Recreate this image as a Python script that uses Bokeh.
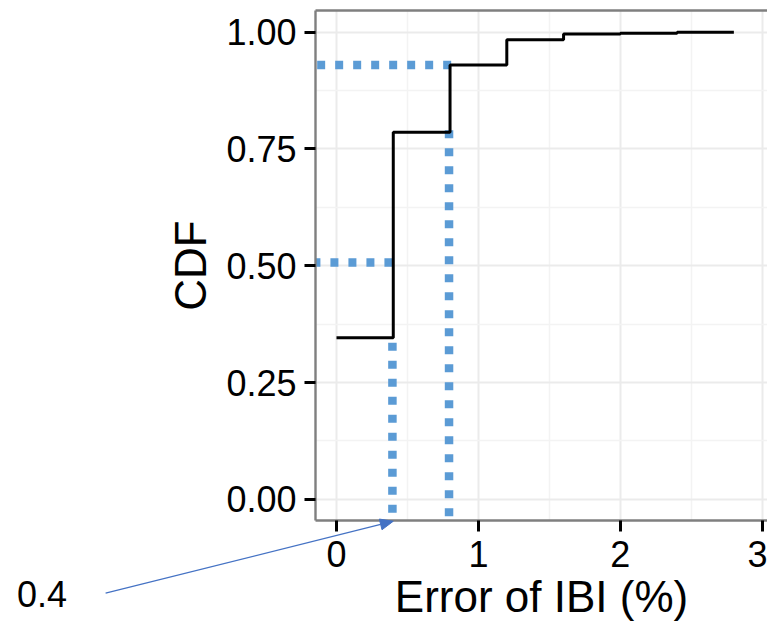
import math
from bokeh.plotting import figure
from bokeh.models import (LinearAxis, FixedTicker, NumeralTickFormatter, Range1d, Grid)
from bokeh.core.properties import value
from bokeh.embed import file_html
from bokeh.resources import INLINE

# Empirical CDF of the IBI error (step after each value)
err_pct = [0.0, 0.4, 0.8, 1.2, 1.6, 2.0, 2.4, 2.8]
cdf = [0.346, 0.786, 0.930, 0.984, 0.996, 0.998, 1.0, 1.0]

# Dotted guide lines (horizontal: level + right end, vertical: position + top)
guide_h_y = [0.930, 0.507]
guide_h_xend = [0.808, 0.394]
guide_v_x = [0.793, 0.394]
guide_v_ytop = [0.790, 0.335]

x_ticks = [0, 1, 2, 3]
x_minor = [0.5, 1.5, 2.5]
y_ticks = [0.0, 0.25, 0.5, 0.75, 1.0]
y_minor = [0.125, 0.375, 0.625, 0.875]

# call-out: value text and arrow from the text to the axis
annot_value = 0.4
annot_text = "0.4"
annot_text_pos = (-2.252, -0.2038)
arrow_start = (-1.627, -0.201)
arrow_end_y = -0.047

FONT = "Liberation Sans"
BORDER = "#7f7f7f"
GUIDE = "#5b9bd5"
ARROW = "#4472c4"

X0, X1 = -0.148, 3.037
Y0, Y1 = -0.0454, 1.0465
FRAME_W, FRAME_H = 452, 510

p = figure(width=767, height=628, output_backend="svg", toolbar_location=None,
           x_range=Range1d(X0, X1), y_range=Range1d(Y0, Y1),
           x_axis_type=None, y_axis_type=None,
           min_border_left=315, min_border_right=0, min_border_top=10,
           min_border_bottom=108)
p.outline_line_color = None
p.background_fill_color = "white"
p.border_fill_color = "white"

xaxis = LinearAxis(ticker=FixedTicker(ticks=x_ticks, minor_ticks=x_minor))
yaxis = LinearAxis(ticker=FixedTicker(ticks=y_ticks, minor_ticks=y_minor),
                   formatter=NumeralTickFormatter(format="0.00"))
for ax in (xaxis, yaxis):
    ax.axis_line_color = BORDER
    ax.axis_line_width = 2.4
    ax.major_tick_line_color = "black"
    ax.major_tick_line_width = 3
    ax.major_tick_out = 11
    ax.major_tick_in = 0
    ax.minor_tick_line_color = None
    ax.major_label_text_font = FONT
    ax.major_label_text_font_size = "36px"
    ax.major_label_text_color = "black"
    ax.axis_label_text_font = FONT
    ax.axis_label_text_font_size = "44px"
    ax.axis_label_text_font_style = "normal"
    ax.axis_label_text_color = "black"
xaxis.axis_label = "Error of IBI (%)"
xaxis.major_label_standoff = 9
xaxis.axis_label_standoff = 2
yaxis.axis_label = "CDF"
yaxis.major_label_standoff = 8
yaxis.axis_label_standoff = 8
p.add_layout(xaxis, "below")
p.add_layout(yaxis, "left")

# top edge of the panel border
top = LinearAxis(ticker=FixedTicker(ticks=[]), axis_line_color=BORDER,
                 axis_line_width=2.4, major_tick_line_color=None,
                 minor_tick_line_color=None, major_label_text_font_size="0px",
                 major_label_standoff=0)
p.add_layout(top, "above")

for dim, ax in ((0, xaxis), (1, yaxis)):
    p.add_layout(Grid(dimension=dim, ticker=ax.ticker,
                      grid_line_color="#ebebeb", grid_line_width=2,
                      minor_grid_line_color="#f3f3f3", minor_grid_line_width=1.5))

# dotted guides
for y, xe in zip(guide_h_y, guide_h_xend):
    p.line([xe, -0.3], [y, y], line_color=GUIDE, line_width=8.5,
           line_dash="8 10", line_cap="butt")
for x, yt in zip(guide_v_x, guide_v_ytop):
    p.line([x, x], [yt, -0.1], line_color=GUIDE, line_width=8.5,
           line_dash="8 10", line_cap="butt")

# CDF step line
p.step(err_pct, cdf, mode="after", line_color="black", line_width=3)

# arrow (shaft + filled head), computed in pixel space so the head keeps its shape
sx = FRAME_W / (X1 - X0)
sy = FRAME_H / (Y1 - Y0)
tip = (annot_value, arrow_end_y)
dxp = (tip[0] - arrow_start[0]) * sx
dyp = (tip[1] - arrow_start[1]) * sy
L = math.hypot(dxp, dyp)
ux, uy = dxp / L, dyp / L
head_len, head_half = 13, 5.5
bx, by = -ux * head_len, -uy * head_len
base_x = tip[0] + bx / sx
base_y = tip[1] + by / sy
hx = [tip[0],
      tip[0] + (bx - uy * head_half) / sx,
      tip[0] + (bx + uy * head_half) / sx]
hy = [tip[1],
      tip[1] + (by + ux * head_half) / sy,
      tip[1] + (by - ux * head_half) / sy]
p.segment(x0=[arrow_start[0]], y0=[arrow_start[1]], x1=[base_x], y1=[base_y],
          line_color=ARROW, line_width=1.2, level="overlay")
p.patch(hx, hy, fill_color=ARROW, line_color=ARROW, line_width=1, level="overlay")
p.text(x=[annot_text_pos[0]], y=[annot_text_pos[1]], text=[annot_text],
       text_font=value(FONT), text_font_size="36px", text_color="black",
       text_baseline="middle", text_align="left", level="overlay")

open("out.html", "w").write(file_html(p, INLINE))
